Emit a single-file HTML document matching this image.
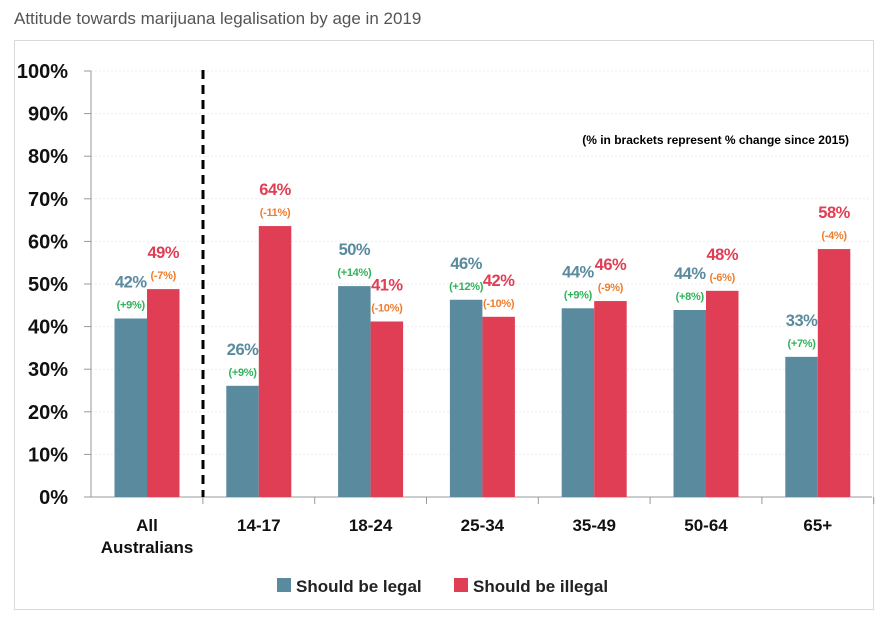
<!DOCTYPE html>
<html><head><meta charset="utf-8"><style>
body{margin:0;background:#fff;font-family:"Liberation Sans",sans-serif}
svg text{font-family:"Liberation Sans",sans-serif}
</style></head><body>
<svg id="c" width="883" height="619" xmlns="http://www.w3.org/2000/svg">
<text x="14" y="24" font-size="17" fill="#555">Attitude towards marijuana legalisation by age in 2019</text>
<rect x="14.5" y="40.5" width="859" height="569" fill="none" stroke="#d9d9d9"/>
<text x="849" y="144" font-size="12" font-weight="bold" text-anchor="end" fill="#000">(% in brackets represent % change since 2015)</text>
<g id="plot"></g>
<rect x="277" y="578" width="14" height="14" fill="#598a9e"/>
<text x="296" y="592" font-size="17" font-weight="bold" fill="#222">Should be legal</text>
<rect x="454" y="578" width="14" height="14" fill="#e03e55"/>
<text x="473" y="592" font-size="17" font-weight="bold" fill="#222">Should be illegal</text>
</svg>
<script>
const categories=["All|Australians","14-17","18-24","25-34","35-49","50-64","65+"];
const legal=[41.9,26.1,49.5,46.3,44.3,43.9,32.9];
const illegal=[48.8,63.6,41.2,42.3,46.0,48.4,58.2];
const legalLabels=["42%","26%","50%","46%","44%","44%","33%"];
const illegalLabels=["49%","64%","41%","42%","46%","48%","58%"];
const legalChange=["(+9%)","(+9%)","(+14%)","(+12%)","(+9%)","(+8%)","(+7%)"];
const illegalChange=["(-7%)","(-11%)","(-10%)","(-10%)","(-9%)","(-6%)","(-4%)"];
const yTicks=[0,10,20,30,40,50,60,70,80,90,100];

const NS="http://www.w3.org/2000/svg";
const g=document.getElementById("plot");
const y0=497,y1=71,xL=91,groupW=111.8,c0=147,barW=32.5;
const y=v=>y0-(v/100)*(y0-y1);
const cx=i=>c0+i*groupW;
function mk(t,a,txt){const e=document.createElementNS(NS,t);for(const k in a)e.setAttribute(k,a[k]);if(txt!=null)e.textContent=txt;g.appendChild(e);return e;}
yTicks.forEach(t=>{
  if(t>0){const gl=mk("line",{x1:xL,x2:870,y1:y(t),y2:y(t),stroke:"#eee","stroke-dasharray":"2,2"});
  
  }
  const tk=mk("line",{x1:xL-7,x2:xL,y1:y(t),y2:y(t),stroke:"#999"});
  
  
  const l=mk("text",{x:68,y:y(t)+7,"font-size":"20","font-weight":"bold","text-anchor":"end",fill:"#111"},t+"%");
  
  
});
const ax=mk("line",{x1:xL,x2:xL,y1:y1,y2:y0,stroke:"#999"});


const xa=mk("line",{x1:xL-7,x2:872,y1:y0,y2:y0,stroke:"#999"});


categories.forEach((c,i)=>{
  const bx=cx(i)+groupW/2;
  const xt=mk("line",{x1:bx,x2:bx,y1:y0,y2:y0+7,stroke:"#999"});
  
  
  const b1=mk("rect",{x:cx(i)-barW,y:y(legal[i]),width:barW,height:y0-y(legal[i]),fill:"#598a9e"});
  
  
  const b2=mk("rect",{x:cx(i),y:y(illegal[i]),width:barW,height:y0-y(illegal[i]),fill:"#e03e55"});
  
  
  const lx=cx(i)-barW/2,rx=cx(i)+barW/2;
  const t1=mk("text",{x:lx,y:y(legal[i])-31,"font-size":"16.5","font-weight":"bold","text-anchor":"middle",fill:"#598a9e","letter-spacing":"-0.5"},legalLabels[i]);
  
  
  const t2=mk("text",{x:lx,y:y(legal[i])-10,"font-size":"11","font-weight":"bold","text-anchor":"middle",fill:"#2fb35a","letter-spacing":"-0.3"},legalChange[i]);
  
  
  const t3=mk("text",{x:rx,y:y(illegal[i])-31,"font-size":"16.5","font-weight":"bold","text-anchor":"middle",fill:"#e03e55","letter-spacing":"-0.5"},illegalLabels[i]);
  
  
  const t4=mk("text",{x:rx,y:y(illegal[i])-10,"font-size":"11","font-weight":"bold","text-anchor":"middle",fill:"#ee7d2e","letter-spacing":"-0.3"},illegalChange[i]);
  
  
  c.split("|").forEach((p,j)=>{
    const cl=mk("text",{x:cx(i),y:531+j*22,"font-size":"17","font-weight":"bold","text-anchor":"middle",fill:"#111"},p);
    
    
  });
});
const dl=mk("line",{x1:203,x2:203,y1:70,y2:y0,stroke:"#000","stroke-width":"3","stroke-dasharray":"9,6"});


</script>
</body></html>
